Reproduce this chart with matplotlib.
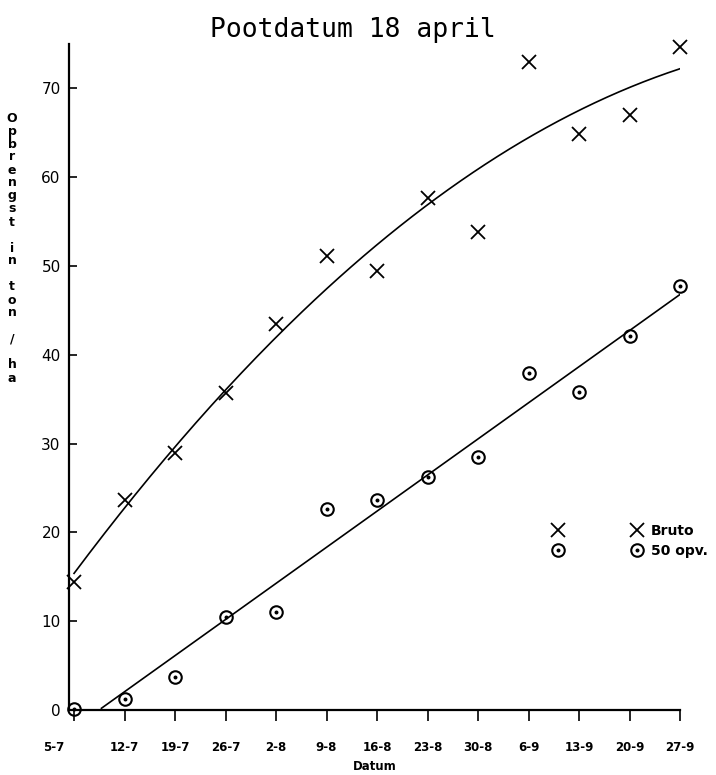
import matplotlib
matplotlib.use("Agg")
import matplotlib.pyplot as plt
import matplotlib.transforms as mtransforms
from matplotlib.path import Path
import numpy as np

# harvest dates
dates = ["5-7", "12-7", "19-7", "26-7", "2-8", "9-8", "16-8", "23-8",
         "30-8", "6-9", "13-9", "20-9", "27-9"]
bruto = [14.4, 23.6, 28.9, 35.7, 43.5, 51.1, 49.4, 57.7, 53.8, 73.0, 64.9, 67.0, 74.7]
opv50 = [0.1, 1.2, 3.7, 10.5, 11.0, 22.6, 23.6, 26.2, 28.5, 38.0, 35.8, 42.1, 47.8]
y_ticks = [0, 10, 20, 30, 40, 50, 60, 70]

narrow = ["Liberation Sans Narrow", "DejaVu Sans"]

x = np.arange(len(dates))

# circle with a dot in the middle
dot_circle = Path.make_compound_path(Path.circle((0, 0), 1.0), Path.circle((0, 0), 0.15))

fig = plt.figure(figsize=(7.16, 7.75), dpi=100)
ax = fig.add_axes([69 / 716, 1 - 710 / 775, (680 - 69) / 716, (710 - 44) / 775])

# fitted curves
xs = np.linspace(0, len(dates) - 1, 200)
p2 = np.polyfit(x, bruto, 2)
ax.plot(xs, np.polyval(p2, xs), color="black", lw=1.2)
p1 = np.polyfit(x, opv50, 1)
yl = np.polyval(p1, xs)
keep = yl >= 0
ax.plot(xs[keep], yl[keep], color="black", lw=1.2)

# points
h1, = ax.plot(x, bruto, ls="none", marker="x", ms=10, mew=1.3, color="black", clip_on=False)
h2, = ax.plot(x, opv50, ls="none", marker=dot_circle, ms=9, mew=1.5, mfc="none",
              color="black", clip_on=False)

ax.set_xlim(-0.1, len(dates) - 1)
ax.set_ylim(0, 75)
ax.spines["top"].set_visible(False)
ax.spines["right"].set_visible(False)
ax.spines["left"].set_linewidth(1.6)
ax.spines["bottom"].set_linewidth(1.6)

ax.set_xticks(x)
ax.set_xticklabels(dates, fontsize=8.5, fontweight="bold", family=narrow)
ax.tick_params(axis="x", direction="out", length=8, width=1.2, pad=14)
ax.set_yticks(y_ticks)
ax.set_yticklabels([str(v) for v in y_ticks], fontsize=11, family=narrow)
ax.tick_params(axis="y", direction="in", length=6, width=1.2, pad=6)

# first date label sits left of the axis
lab0 = ax.get_xticklabels()[0]
lab0.set_transform(lab0.get_transform() + mtransforms.ScaledTranslation(-0.2, 0, fig.dpi_scale_trans))

ax.set_xlabel("Datum", fontsize=8.5, fontweight="bold", family=narrow, labelpad=5)

fig.text(353 / 716, 1 - 30 / 775, "Pootdatum 18 april", ha="center", va="center",
         fontsize=19, family="DejaVu Sans Mono")

ylabel = "Opbrengst in ton / ha"
fig.text(12 / 716, 1 - 248 / 775, "\n".join(ylabel), ha="center", va="center",
         fontsize=9, fontweight="bold", linespacing=1.0, family=narrow)

fig.legend([h1, h2], ["Bruto", "50 opv."],
           numpoints=2, handlelength=6.3, handletextpad=0.7, labelspacing=0.45,
           loc="upper left", bbox_to_anchor=(554 / 716, 1 - 524 / 775),
           bbox_transform=fig.transFigure, frameon=False, borderpad=0,
           borderaxespad=0, prop={"family": narrow, "weight": "bold", "size": 10})

fig.savefig("out.png", dpi=100)
